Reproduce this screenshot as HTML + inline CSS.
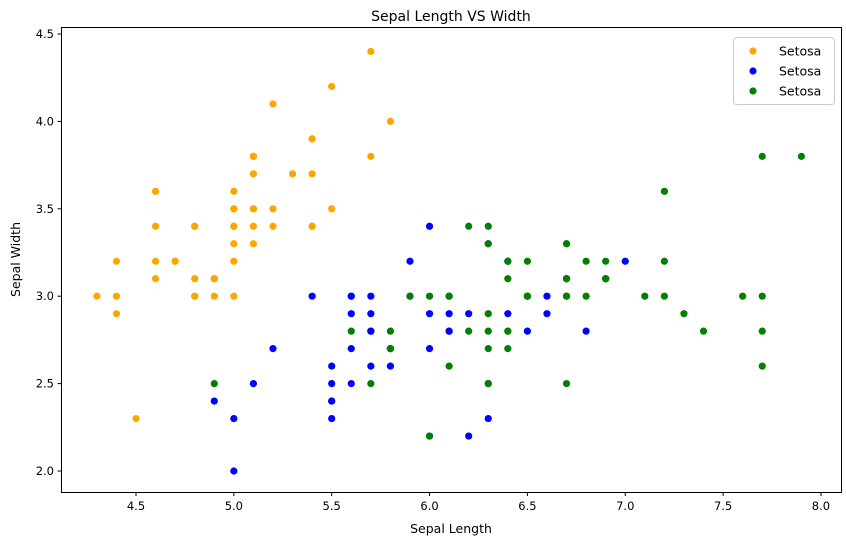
<!DOCTYPE html>
<html><head><meta charset="utf-8"><style>
body{margin:0;background:#fff;font-family:"Liberation Sans","DejaVu Sans",sans-serif}
</style></head><body>
<svg id="chart" width="846" height="545" xmlns="http://www.w3.org/2000/svg" font-family="DejaVu Sans, Liberation Sans, sans-serif"></svg>
<script>
const setosaX=[5.1,4.9,4.7,4.6,5.0,5.4,4.6,5.0,4.4,4.9,5.4,4.8,4.8,4.3,5.8,5.7,5.4,5.1,5.7,5.1,5.4,5.1,4.6,5.1,4.8,5.0,5.0,5.2,5.2,4.7,4.8,5.4,5.2,5.5,4.9,5.0,5.5,4.9,4.4,5.1,5.0,4.5,4.4,5.0,5.1,4.8,5.1,4.6,5.3,5.0];
const setosaY=[3.5,3.0,3.2,3.1,3.6,3.9,3.4,3.4,2.9,3.1,3.7,3.4,3.0,3.0,4.0,4.4,3.9,3.5,3.8,3.8,3.4,3.7,3.6,3.3,3.4,3.0,3.4,3.5,3.4,3.2,3.1,3.4,4.1,4.2,3.1,3.2,3.5,3.1,3.0,3.4,3.5,2.3,3.2,3.5,3.8,3.0,3.8,3.2,3.7,3.3];
const versiX=[7.0,6.4,6.9,5.5,6.5,5.7,6.3,4.9,6.6,5.2,5.0,5.9,6.0,6.1,5.6,6.7,5.6,5.8,6.2,5.6,5.9,6.1,6.3,6.1,6.4,6.6,6.8,6.7,6.0,5.7,5.5,5.5,5.8,6.0,5.4,6.0,6.7,6.3,5.6,5.5,5.5,6.1,5.8,5.0,5.6,5.7,5.7,6.2,5.1,5.7];
const versiY=[3.2,3.2,3.1,2.3,2.8,2.8,3.3,2.4,2.9,2.7,2.0,3.0,2.2,2.9,2.9,3.1,3.0,2.7,2.2,2.5,3.2,2.8,2.5,2.8,2.9,3.0,2.8,3.0,2.9,2.6,2.4,2.4,2.7,2.7,3.0,3.4,3.1,2.3,3.0,2.5,2.6,3.0,2.6,2.3,2.7,3.0,2.9,2.9,2.5,2.8];
const virgX=[6.3,5.8,7.1,6.3,6.5,7.6,4.9,7.3,6.7,7.2,6.5,6.4,6.8,5.7,5.8,6.4,6.5,7.7,7.7,6.0,6.9,5.6,7.7,6.3,6.7,7.2,6.2,6.1,6.4,7.2,7.4,7.9,6.4,6.3,6.1,7.7,6.3,6.4,6.0,6.9,6.7,6.9,5.8,6.8,6.7,6.7,6.3,6.5,6.2,5.9];
const virgY=[3.3,2.7,3.0,2.9,3.0,3.0,2.5,2.9,2.5,3.6,3.2,2.7,3.0,2.5,2.8,3.2,3.0,3.8,2.6,2.2,3.2,2.8,2.8,2.7,3.3,3.2,2.8,3.0,2.8,3.0,2.8,3.8,2.8,2.8,2.6,3.0,3.4,3.1,3.0,3.1,3.1,3.1,2.7,3.2,3.3,3.0,2.5,3.0,3.4,3.0];
const xTicks=[4.5,5.0,5.5,6.0,6.5,7.0,7.5,8.0];
const yTicks=[2.0,2.5,3.0,3.5,4.0,4.5];
const seriesNames=["Setosa","Setosa","Setosa"];

const L=61,R=841,T=27,B=492;
const xs=v=>136+(v-4.5)*195.7;
const ys=v=>471-(v-2.0)*174.8;
const svg=document.getElementById('chart');
const NS="http://www.w3.org/2000/svg";
function mk(tag,attrs,parent){const e=document.createElementNS(NS,tag);for(const k in attrs)e.setAttribute(k,attrs[k]);(parent||svg).appendChild(e);return e;}

const title=mk('text',{x:(L+R)/2,y:21,'text-anchor':'middle','font-size':14});
title.textContent="Sepal Length VS Width";



const frame=mk('rect',{x:L+0.5,y:T+0.5,width:R-L,height:B-T,fill:'none',stroke:'#000','stroke-width':1});



xTicks.forEach(t=>{
  const g=mk('g',{});
  
  
  const x=xs(t);
  mk('line',{x1:x,x2:x,y1:B+0.5,y2:B+4,stroke:'#000'},g);
  const tx=mk('text',{x:x,y:B+18,'text-anchor':'middle','font-size':11.5},g);
  tx.textContent=t.toFixed(1);
});
yTicks.forEach(t=>{
  const g=mk('g',{});
  
  
  const y=ys(t);
  mk('line',{x1:L-3.5,x2:L+0.5,y1:y,y2:y,stroke:'#000'},g);
  const tx=mk('text',{x:L-7,y:y+4,'text-anchor':'end','font-size':11.5},g);
  tx.textContent=t.toFixed(1);
});
const xl=mk('text',{x:(L+R)/2,y:533,'text-anchor':'middle','font-size':12.5});
xl.textContent="Sepal Length";


const yl=mk('text',{x:20,y:(T+B)/2,'text-anchor':'middle','font-size':12.5,transform:`rotate(-90 20 ${(T+B)/2})`});
yl.textContent="Sepal Width";



const series=[[setosaX,setosaY,'orange'],[versiX,versiY,'blue'],[virgX,virgY,'green']];
series.forEach((s,i)=>{
  const g=mk('g',{});
  
  
  s[0].forEach((v,j)=>{
    const c=mk('circle',{cx:xs(v),cy:ys(s[1][j]),r:3.6,fill:s[2]},g);
    
    
  });
});

const lg=mk('g',{});


mk('rect',{x:733.5,y:37.5,width:101,height:67,rx:3,fill:'#fff',stroke:'#ccc'},lg);
series.forEach((s,i)=>{
  const e=mk('g',{},lg);
  
  
  const y=51+i*20;
  mk('circle',{cx:753,cy:y,r:3.6,fill:s[2]},e);
  const t=mk('text',{x:779,y:y+4.5,'font-size':12.5},e);
  t.textContent=seriesNames[i];
});
</script>
</body></html>
